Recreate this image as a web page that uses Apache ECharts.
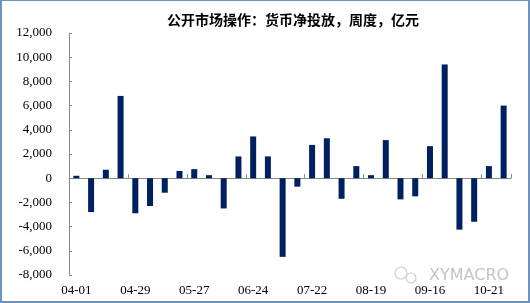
<!DOCTYPE html>
<html><head><meta charset="utf-8">
<script src="https://cdn.jsdelivr.net/npm/echarts@6/dist/echarts.min.js"></script>
<style>
html,body{margin:0;padding:0;background:#fff;}
#frame{position:absolute;left:0;top:0;width:530px;height:303px;box-sizing:border-box;border:2px solid #6d93c2;border-top-width:1px;}
#c{position:absolute;left:0;top:0;width:530px;height:303px;}
</style></head>
<body>
<div id="c"></div>
<div id="frame"></div>
<script>
const titleText = '公开市场操作：货币净投放，周度，亿元';
const categories = ['04-01','04-08','04-15','04-22','04-29','05-06','05-13','05-20','05-27','06-03','06-10','06-17','06-24','07-01','07-08','07-15','07-22','07-29','08-05','08-12','08-19','08-26','09-02','09-09','09-16','09-23','10-07','10-14','10-21','10-28'];
const netInjection = [200,-2800,700,6800,-2900,-2300,-1200,600,750,250,-2500,1800,3450,1800,-6500,-700,2750,3300,-1700,1000,250,3150,-1750,-1500,2650,9400,-4250,-3600,1000,6000];
const yMin = -8000, yMax = 12000, yStep = 2000;

const chart = echarts.init(document.getElementById('c'), null, {renderer:'canvas'});
const serif = '"Liberation Serif","Times New Roman",serif';
chart.setOption({
  animation:false,
  backgroundColor:'#fff',
  title:{text:titleText,left:288,top:8,textAlign:'center',
    textStyle:{fontSize:14,fontWeight:'bold',color:'#000',fontFamily:'"Noto Sans CJK SC",sans-serif'}},
  grid:{left:69,right:19,top:33,bottom:28,containLabel:false},
  xAxis:[
    {type:'category',data:categories,boundaryGap:true,
     axisLine:{onZero:true,lineStyle:{color:'#888',width:1}},
     axisTick:{show:true,inside:true,length:4,interval:3,lineStyle:{color:'#888'}},
     axisLabel:{show:false}},
    {type:'category',data:categories,boundaryGap:true,position:'bottom',
     axisLine:{show:false,onZero:false},axisTick:{show:false},
     axisLabel:{show:true,interval:3,margin:9,color:'#000',fontSize:13,fontFamily:serif}}
  ],
  yAxis:{type:'value',min:yMin,max:yMax,interval:yStep,
    axisLine:{show:true,lineStyle:{color:'#888'}},
    axisTick:{show:true,inside:true,length:3,lineStyle:{color:'#888'}},
    splitLine:{show:false},
    axisLabel:{margin:17,color:'#000',fontSize:13,fontFamily:serif,
      formatter:v=>v.toLocaleString('en-US')}},
  series:[{type:'bar',xAxisIndex:0,data:netInjection,barWidth:6,
    itemStyle:{color:'#002060'}}],
  graphic:[
    {type:'text',left:429,top:268,style:{text:'XYMACRO',fill:'#c4c4c4',fontSize:16,fontFamily:'"DejaVu Sans",sans-serif'}},
    {type:'circle',shape:{cx:401,cy:273,r:6},style:{fill:'none',stroke:'#cfcfcf',lineWidth:1.2}},
    {type:'circle',shape:{cx:411,cy:278,r:5},style:{fill:'#fff',stroke:'#cfcfcf',lineWidth:1.2}}
  ]
});
</script>
</body></html>
